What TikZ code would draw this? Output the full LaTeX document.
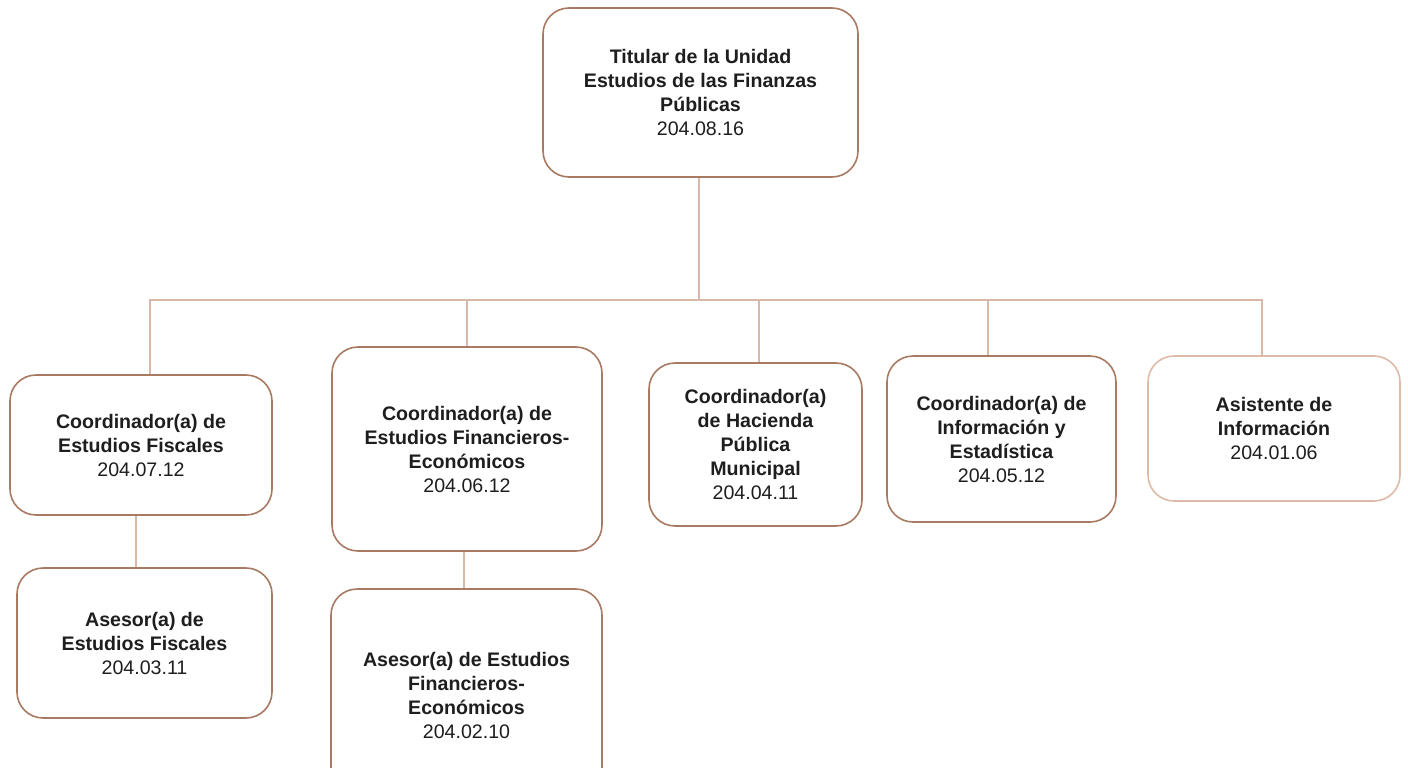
\documentclass[tikz,border=0pt]{standalone}
\usepackage{fontspec}
\setmainfont{Liberation Sans}
\definecolor{boxline}{HTML}{A97A62}
\definecolor{boxlight}{HTML}{DDBBA8}
\definecolor{wire}{HTML}{D8B8A6}
\definecolor{ink}{HTML}{1E1E1E}
\begin{document}
\begin{tikzpicture}[x=1pt,y=-1pt,
  unit/.style={draw=boxline, line width=1.6pt, rounded corners=26pt, fill=white,
    text=ink, align=center, inner sep=0pt,
    font=\fontsize{19.6}{24}\selectfont},
  wire/.style={draw=wire, line width=1.8pt}]
\useasboundingbox (0,0) rectangle (1408,768);
\clip (0,0) rectangle (1408,768);

% head of the unit
\node[unit, minimum width=315pt, minimum height=169pt] (tit) at (700.5,92.5)
  {\textbf{Titular de la Unidad}\\\textbf{Estudios de las Finanzas}\\\textbf{Públicas}\\204.08.16};

% coordinators
\node[unit, minimum width=262pt, minimum height=140pt] (cef) at (141,445)
  {\textbf{Coordinador(a) de}\\\textbf{Estudios Fiscales}\\204.07.12};
\node[unit, minimum width=270pt, minimum height=204pt] (cfe) at (467,449)
  {\textbf{Coordinador(a) de}\\\textbf{Estudios Financieros-}\\\textbf{Económicos}\\204.06.12};
\node[unit, minimum width=213pt, minimum height=163pt] (chm) at (755.5,444.5)
  {\textbf{Coordinador(a)}\\\textbf{de Hacienda}\\\textbf{Pública}\\\textbf{Municipal}\\204.04.11};
\node[unit, minimum width=229pt, minimum height=166pt] (cie) at (1001.5,439)
  {\textbf{Coordinador(a) de}\\\textbf{Información y}\\\textbf{Estadística}\\204.05.12};
\node[unit, draw=boxlight, minimum width=252pt, minimum height=145pt] (asi) at (1274,428.5)
  {\textbf{Asistente de}\\\textbf{Información}\\204.01.06};

% advisers
\node[unit, minimum width=255pt, minimum height=150pt] (aef) at (144.5,643)
  {\textbf{Asesor(a) de}\\\textbf{Estudios Fiscales}\\204.03.11};
\node[unit, minimum width=271pt, minimum height=212pt] (afe) at (466.5,695)
  {\textbf{Asesor(a) de Estudios}\\\textbf{Financieros-}\\\textbf{Económicos}\\204.02.10};

% connectors
\coordinate (bus) at (699,300);
\draw[wire] (tit.south -| bus) -- (bus);
\draw[wire] (cef.north -| 150,0) |- (bus) -| (asi.north -| 1262,0);
\draw[wire] (cfe.north -| 467,0) -- (467,300);
\draw[wire] (chm.north -| 759,0) -- (759,300);
\draw[wire] (cie.north -| 988,0) -- (988,300);
\draw[wire] (cef.south -| 136,0) -- (aef.north -| 136,0);
\draw[wire] (cfe.south -| 464,0) -- (afe.north -| 464,0);
\end{tikzpicture}
\end{document}
